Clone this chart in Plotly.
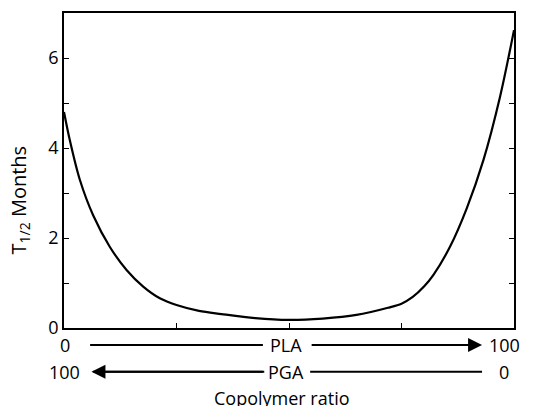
import plotly.graph_objects as go

# Data
pla_percent = [0, 1.3, 3.5, 6.5, 10.2, 13.9, 17.6, 21.3, 25, 30, 35, 42.5, 50, 57.5, 65, 72, 75, 77.5, 80, 82.1, 85.8, 89.5, 93.2, 96.9, 100]
t_half_months = [4.8, 4.17, 3.3, 2.5, 1.8, 1.29, 0.92, 0.66, 0.51, 0.38, 0.31, 0.22, 0.18, 0.21, 0.29, 0.45, 0.54, 0.69, 0.92, 1.18, 1.81, 2.66, 3.73, 5.14, 6.62]

y_tickvals = [0, 1, 2, 3, 4, 5, 6]
y_ticktext = ["0", "", "2", "", "4", "", "6"]
x_tickvals = [25, 50, 75]

FONT = "Open Sans"
FS = 18

fig = go.Figure()
fig.add_trace(go.Scatter(
    x=pla_percent, y=t_half_months, mode="lines",
    line=dict(color="black", width=2.2, shape="spline", smoothing=0.9),
    hoverinfo="skip", showlegend=False,
))

fig.update_layout(
    width=536, height=406,
    margin=dict(l=64, r=22, t=13, b=78),
    paper_bgcolor="white", plot_bgcolor="white",
    font=dict(family=FONT, size=FS, color="black"),
    xaxis=dict(
        range=[0, 100], tickvals=x_tickvals, ticktext=["", "", ""],
        ticks="inside", ticklen=5, tickwidth=1.2, tickcolor="black",
        showline=True, linecolor="black", linewidth=1.5, mirror=True,
        showgrid=False, zeroline=False, fixedrange=True, automargin=False,
    ),
    yaxis=dict(
        range=[0, 7], tickvals=y_tickvals, ticktext=y_ticktext,
        ticks="inside", ticklen=5, tickwidth=1.2, tickcolor="black",
        showline=True, linecolor="black", linewidth=1.5, mirror="allticks",
        showgrid=False, zeroline=False, fixedrange=True, automargin=False,
    ),
)

# y-axis title (placed as rotated annotation to match reference position)
fig.add_annotation(xref="paper", yref="paper", x=-0.1, y=0.405, text="T<sub>1/2</sub> Months",
                   textangle=-90, showarrow=False, xanchor="center", yanchor="middle",
                   font=dict(family=FONT, size=20, color="black"))

row1 = -0.054
row2 = -0.139

anns = [
    dict(x=0.2, y=row1, text="0"),
    dict(x=49.3, y=row1, text="PLA"),
    dict(x=97.8, y=row1, text="100"),
    dict(x=0.2, y=row2, text="100"),
    dict(x=49.3, y=row2, text="PGA"),
    dict(x=97.8, y=row2, text="0"),
    dict(x=48.5, y=-0.222, text="Copolymer ratio"),
]
for a in anns:
    fig.add_annotation(xref="x", yref="paper", showarrow=False,
                       xanchor="center", yanchor="middle",
                       font=dict(family=FONT, size=FS, color="black"), **a)

# plain line segments
for x0, x1, yy in [(5.8, 44.2, row1), (6.5, 44.5, row2), (54.7, 92.9, row2)]:
    fig.add_shape(type="line", xref="x", yref="paper", x0=x0, x1=x1, y0=yy, y1=yy,
                  line=dict(color="black", width=2))

# arrows
fig.add_annotation(xref="x", yref="paper", axref="x", x=92.9, y=row1, ax=54.7, ay=0,
                   text="", showarrow=True, arrowhead=2, arrowsize=1.4, arrowwidth=2, arrowcolor="black")
fig.add_annotation(xref="x", yref="paper", axref="x", x=6.1, y=row2, ax=44.5, ay=0,
                   text="", showarrow=True, arrowhead=2, arrowsize=1.4, arrowwidth=2, arrowcolor="black")

fig.write_html("out.html", config={"displayModeBar": False},
               post_script="document.body.style.margin='0';")
